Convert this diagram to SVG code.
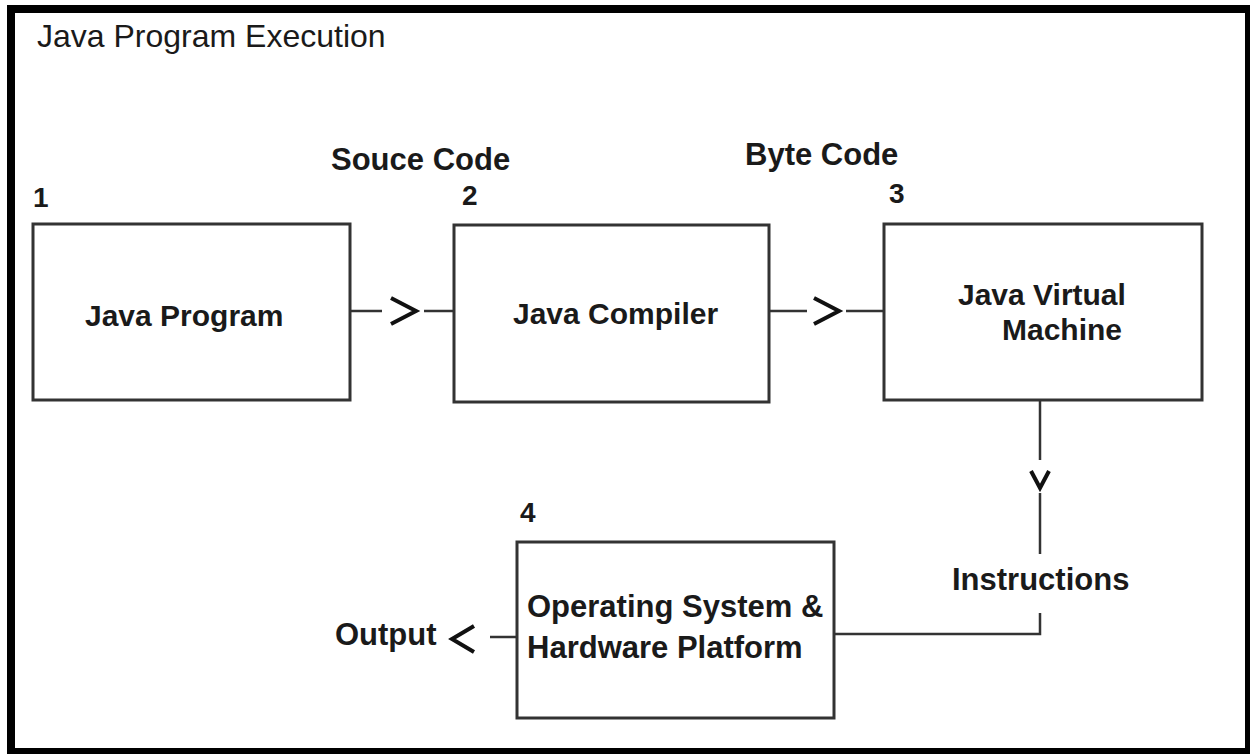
<svg xmlns="http://www.w3.org/2000/svg" width="1250" height="754" viewBox="0 0 1250 754">
<style>
.frame{fill:#fff;stroke:#000;stroke-width:8}
.box{fill:#fff;stroke:#333;stroke-width:3}
.ln{fill:none;stroke:#333;stroke-width:2.5}
.head{fill:none;stroke:#111;stroke-width:4;stroke-linejoin:miter;stroke-linecap:butt}
text{font-family:"Liberation Sans",Arial,sans-serif;fill:#1a1a1a}
.title{font-size:32px}
.lbl{font-size:31px;font-weight:bold}
.num{font-size:28px;font-weight:bold}
.node{font-size:30px;font-weight:bold}
</style>
<rect class="frame" x="11" y="9" width="1238" height="743"/>
<text class="title" x="37" y="47">Java Program Execution</text>
<g id="connectors">
<line class="ln" x1="350" y1="311" x2="382" y2="311"/>
<polyline class="head" points="391,298 416,311 391,324"/>
<line class="ln" x1="424" y1="311" x2="454" y2="311"/>
<line class="ln" x1="769" y1="311" x2="807" y2="311"/>
<polyline class="head" points="814,298 839,311 814,324"/>
<line class="ln" x1="846" y1="311" x2="884" y2="311"/>
<line class="ln" x1="1040" y1="400" x2="1040" y2="460"/>
<polyline class="head" points="1031,471 1040,488 1049,471"/>
<line class="ln" x1="1040" y1="493" x2="1040" y2="554"/>
<text class="lbl" x="952" y="590">Instructions</text>
<polyline class="ln" points="1040,613 1040,634 834,634"/>
<line class="ln" x1="490" y1="637" x2="517" y2="637"/>
<polyline class="head" points="474,626 452,639 474,652"/>
<text class="lbl" x="335" y="645">Output</text>
<text class="lbl" x="331" y="170">Souce Code</text>
<text class="lbl" x="745" y="165">Byte Code</text>
</g>
<g id="node1">
<text class="num" x="33" y="207">1</text>
<rect class="box" x="33" y="224" width="317" height="176"/>
<text class="node" x="85" y="326">Java Program</text>
</g>
<g id="node2">
<text class="num" x="462" y="205">2</text>
<rect class="box" x="454" y="225" width="315" height="177"/>
<text class="node" x="513" y="324">Java Compiler</text>
</g>
<g id="node3">
<text class="num" x="889" y="203">3</text>
<rect class="box" x="884" y="224" width="318" height="176"/>
<text class="node" x="958" y="305">Java Virtual</text>
<text class="node" x="1002" y="340">Machine</text>
</g>
<g id="node4">
<text class="num" x="520" y="522">4</text>
<rect class="box" x="517" y="542" width="317" height="176"/>
<text class="node" x="527" y="617" style="font-size:31px">Operating System &amp;</text>
<text class="node" x="527" y="658" style="font-size:31px">Hardware Platform</text>
</g>
</svg>
